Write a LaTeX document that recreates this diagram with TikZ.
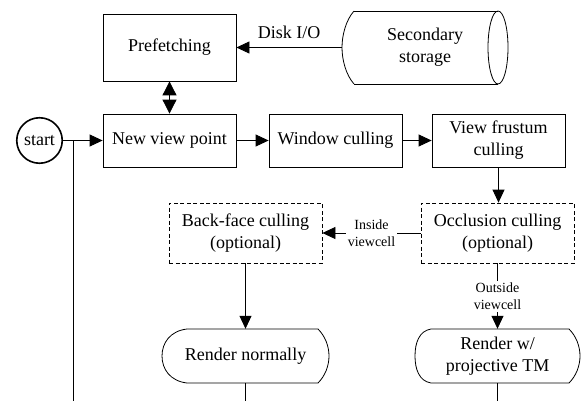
\documentclass[tikz,border=0pt]{standalone}
\usepackage{fontspec}
\setmainfont{Liberation Serif}
\usetikzlibrary{arrows.meta}
\begin{document}
\begin{tikzpicture}[x=1pt,y=-1pt,
  box/.style={draw, line width=0.8pt, minimum width=133pt, minimum height=53pt, inner sep=0pt, align=center, font=\fontsize{18}{22}\selectfont},
  dbox/.style={box, dash pattern=on 4pt off 2.5pt, minimum width=153pt, minimum height=60pt},
  txt/.style={inner sep=0pt, align=center, font=\fontsize{18}{22}\selectfont},
  lbl/.style={fill=white, inner sep=2pt, align=center, font=\fontsize{14}{17}\selectfont},
  conn/.style={line width=0.8pt, -{Triangle[length=13pt,width=12pt]}},
  plain/.style={line width=0.8pt},
  outline/.style={line width=0.8pt}]
\useasboundingbox (0,0) rectangle (585,401);

% nodes
\node[box, minimum height=67pt] (pre) at (169.5,47.5) {Prefetching};
\node[box] (nvp) at (169.5,140.5) {New view point};
\node[box] (win) at (335.5,140.5) {Window culling};
\node[box] (vfc) at (498.5,140.5) {View frustum\\culling};
\node[dbox] (occ) at (497.5,233) {Occlusion culling\\(optional)};
\node[dbox] (bfc) at (245.5,233) {Back-face culling\\(optional)};
\node[circle, draw, line width=1.6pt, minimum size=45.5pt, inner sep=0pt, font=\fontsize{18}{22}\selectfont] (start) at (39.5,140.5) {start};
\node[txt, minimum width=166pt, minimum height=73pt] (sto) at (425,47.5) {Secondary\\storage};
\node[txt, minimum width=167pt, minimum height=54pt] (rn) at (245.5,356) {Render normally};
\node[txt, minimum width=165pt, minimum height=54pt] (rw) at (497.5,356) {Render w/\\projective TM};

% cylinder outline
\draw[outline] (354,11) -- (498,11) (354,84) -- (498,84);
\draw[outline] (354,11) .. controls (346,20) and (342,35) .. (342,47.5) .. controls (342,60) and (346,75) .. (354,84);
\draw[outline] (498,47.5) ellipse [x radius=10, y radius=36.5];

% display shapes
\draw[outline] (187,329) -- (318,329) .. controls (325,336) and (329,346) .. (329,356) .. controls (329,366) and (325,376) .. (318,383) -- (187,383) .. controls (170,381) and (162,369) .. (162,356) .. controls (162,343) and (170,331) .. (187,329) -- cycle;
\draw[outline] (431,329) -- (569,329) .. controls (576,336) and (580,346) .. (580,356) .. controls (580,366) and (576,376) .. (569,383) -- (431,383) .. controls (419,381) and (415,369) .. (415,356) .. controls (415,343) and (419,331) .. (431,329) -- cycle;

% connectors
\draw[conn] (sto.west) -- node[txt, above=8pt] {Disk I/O} (pre.east);
\draw[line width=0.8pt, {Triangle[length=14pt,width=14pt]}-{Triangle[length=14pt,width=14pt]}] (pre.south) -- (nvp.north);
\draw[conn] (start.east) -- (nvp.west);
\coordinate (br) at (73,140.5);
\coordinate (brend) at (73,401);
\draw[plain] (br) -- (brend);
\draw[conn] (nvp.east) -- (win.west);
\draw[conn] (win.east) -- (vfc.west);
\draw[conn] (vfc.south) -- (vfc.south |- occ.north);
\draw[conn] (occ.west) -- node[lbl] {Inside\\viewcell} (bfc.east);
\draw[conn] (occ.south) -- node[lbl] {Outside\\viewcell} (rw.north);
\draw[conn] (bfc.south) -- (rn.north);
\coordinate (rnend) at (245.5,401);
\coordinate (rwend) at (497.5,401);
\draw[plain] (rn.south) -- (rnend);
\draw[plain] (rw.south) -- (rwend);
\end{tikzpicture}
\end{document}
